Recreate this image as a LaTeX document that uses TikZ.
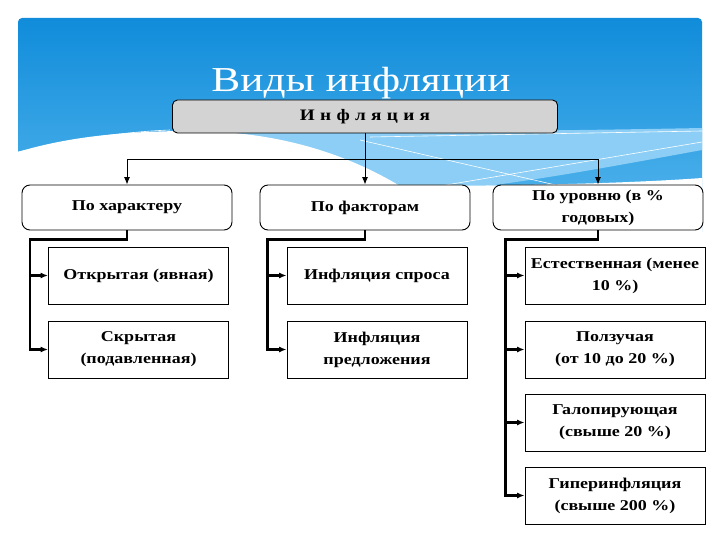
\documentclass[tikz,border=0pt]{standalone}
\usepackage{fontspec}
\setmainfont{Liberation Serif}
\newfontfamily\titlefont[FakeStretch=1.24]{Liberation Serif}
\newfontfamily\boxfont[FakeStretch=1.2]{Liberation Serif}
\usetikzlibrary{arrows.meta,calc}
\definecolor{bluetop}{RGB}{16,140,218}
\definecolor{bluebot}{RGB}{88,184,238}
\definecolor{bluelight}{RGB}{140,206,245}
\definecolor{boxgray}{RGB}{211,211,211}
\begin{document}
\begin{tikzpicture}[x=1pt,y=-1pt,
  lvl0/.style={draw, line width=0.9pt, rounded corners=5pt, fill=boxgray, minimum width=385pt, minimum height=33pt, font=\boxfont\bfseries\fontsize{16}{18}\selectfont},
  lvl1/.style={draw, line width=0.9pt, rounded corners=8pt, fill=white, minimum width=210pt, minimum height=45pt, align=center, font=\boxfont\bfseries\fontsize{15}{22}\selectfont},
  leaf/.style={draw, line width=0.9pt, fill=white, minimum width=180pt, minimum height=57pt, align=center, font=\boxfont\bfseries\fontsize{15}{22}\selectfont},
  conn/.style={line width=0.9pt},
  thk/.style={line width=2.2pt},
  arr/.style={-{Latex[length=7.5pt,width=6pt]}}]
\useasboundingbox (0,0) rectangle (720,540);
\fill[white] (0,0) rectangle (720,540);
% header band
\shade[top color=bluetop, bottom color=bluebot, rounded corners=4pt] (18,18) rectangle (702,236);
\fill[bluelight] (160,134) .. controls (300,132) and (500,132) .. (702,128) -- (702,150)
  .. controls (620,165) and (540,180) .. (470,188) -- (360,188) -- cycle;
\fill[white] (18,152) .. controls (70,136) and (130,131) .. (190,131)
  .. controls (270,131) and (340,150) .. (400,186)
  .. controls (500,186) and (620,184) .. (702,178) -- (702,240) -- (18,240) -- cycle;
\draw[white, line width=0.6pt] (370,137) -- (702,131);
\draw[white, line width=0.6pt] (360,140) -- (560,186);
\draw[white, line width=0.6pt] (440,186) -- (702,142);
\draw[white, line width=0.6pt] (18,152) .. controls (70,140) and (120,132) .. (170,130);
% title
\node[text=white, font=\titlefont\fontsize{35}{40}\selectfont, anchor=base] (title) at (361,92) {Виды инфляции};
% nodes
\node[lvl0] (inf) at (365,116.5) {И\,\,н\,\,ф\,\,л\,\,я\,\,ц\,\,и\,\,я};
\node[lvl1] (c1) at (127,207.5) {По характеру};
\node[lvl1] (c2) at (365,207.5) {По факторам};
\node[lvl1] (c3) at (598,207.5) {По уровню (в \%\\годовых)};
\node[leaf] (k11) at (138.5,275.5) {Открытая (явная)};
\node[leaf] (k12) at (138.5,349.5) {Скрытая\\(подавленная)};
\node[leaf] (k21) at (377,275.5) {Инфляция спроса};
\node[leaf] (k22) at (377,349.5) {Инфляция\\предложения};
\node[leaf] (k31) at (615,275.5) {Естественная (менее\\10 \%)};
\node[leaf] (k32) at (615,349.5) {Ползучая\\(от 10 до 20 \%)};
\node[leaf] (k33) at (615,422.5) {Галопирующая\\(свыше 20 \%)};
\node[leaf] (k34) at (615,495.5) {Гиперинфляция\\(свыше 200 \%)};
% top connectors
\draw[conn] (inf.south) -- ++(0,26) coordinate (hub);
\draw[conn,arr] (hub) -| (c1.north);
\draw[conn,arr] (hub) -- (c2.north);
\draw[conn,arr] (hub) -| (c3.north);
% child connectors
\draw[thk,arr] (c1.south) -- ++(0,9) -| ([xshift=-18pt]k12.west) -- (k12.west);
\draw[thk,arr] ([xshift=-18pt]k11.west) -- (k11.west);
\draw[thk,arr] (c2.south) -- ++(0,9) -| ([xshift=-19pt]k22.west) -- (k22.west);
\draw[thk,arr] ([xshift=-19pt]k21.west) -- (k21.west);
\draw[thk,arr] (c3.south) -- ++(0,9) -| ([xshift=-19pt]k34.west) -- (k34.west);
\draw[thk,arr] ([xshift=-19pt]k31.west) -- (k31.west);
\draw[thk,arr] ([xshift=-19pt]k32.west) -- (k32.west);
\draw[thk,arr] ([xshift=-19pt]k33.west) -- (k33.west);
\end{tikzpicture}
\end{document}
